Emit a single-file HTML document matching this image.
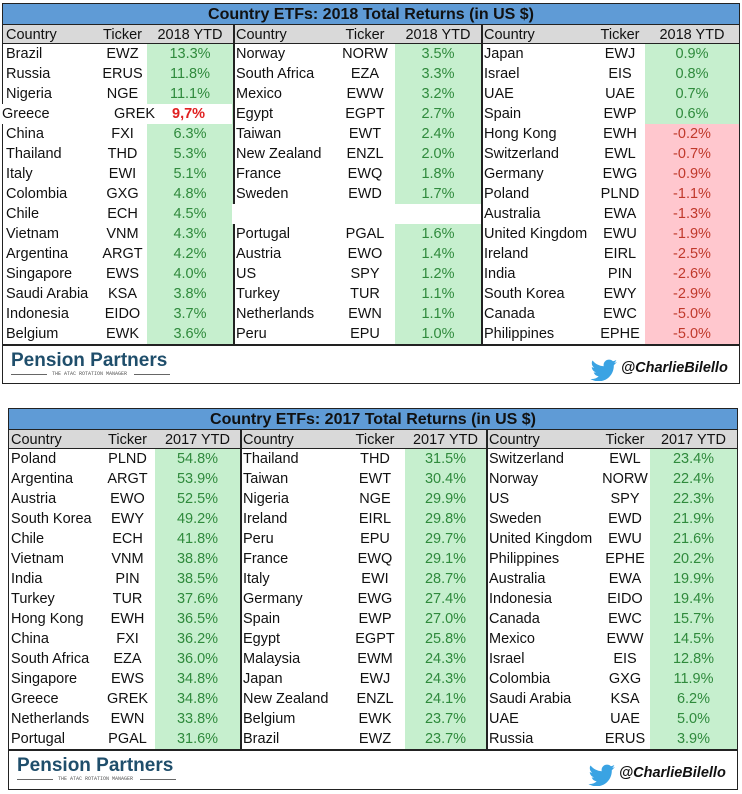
<!DOCTYPE html>
<html><head><meta charset="utf-8">
<style>
body{margin:0;width:742px;height:794px;background:#fff;position:relative;overflow:hidden;font-family:"Liberation Sans",Arial,sans-serif;}
.abs{position:absolute;box-sizing:border-box;}
.cell{position:absolute;font-size:14.5px;line-height:20px;height:20px;white-space:nowrap;color:#111;}
.title{font-weight:bold;font-size:16px;text-align:center;color:#111;}
.logo{font-family:"Liberation Sans",sans-serif;font-weight:bold;color:#1f4e6b;font-size:19px;white-space:nowrap;}
.tag{font-family:"Liberation Mono",monospace;font-size:5px;color:#555;white-space:nowrap;}
.tw{font-family:"Liberation Sans",sans-serif;font-style:italic;font-weight:bold;font-size:14.5px;color:#111;white-space:nowrap;}
</style></head>
<body>
<script>
// 2018 data
const c18_1=["Brazil","Russia","Nigeria","Greece","China","Thailand","Italy","Colombia","Chile","Vietnam","Argentina","Singapore","Saudi Arabia","Indonesia","Belgium"];
const t18_1=["EWZ","ERUS","NGE","GREK","FXI","THD","EWI","GXG","ECH","VNM","ARGT","EWS","KSA","EIDO","EWK"];
const v18_1=[13.3,11.8,11.1,9.7,6.3,5.3,5.1,4.8,4.5,4.3,4.2,4.0,3.8,3.7,3.6];
const c18_2=["Norway","South Africa","Mexico","Egypt","Taiwan","New Zealand","France","Sweden","","Portugal","Austria","US","Turkey","Netherlands","Peru"];
const t18_2=["NORW","EZA","EWW","EGPT","EWT","ENZL","EWQ","EWD","","PGAL","EWO","SPY","TUR","EWN","EPU"];
const v18_2=[3.5,3.3,3.2,2.7,2.4,2.0,1.8,1.7,null,1.6,1.4,1.2,1.1,1.1,1.0];
const c18_3=["Japan","Israel","UAE","Spain","Hong Kong","Switzerland","Germany","Poland","Australia","United Kingdom","Ireland","India","South Korea","Canada","Philippines"];
const t18_3=["EWJ","EIS","UAE","EWP","EWH","EWL","EWG","PLND","EWA","EWU","EIRL","PIN","EWY","EWC","EPHE"];
const v18_3=[0.9,0.8,0.7,0.6,-0.2,-0.7,-0.9,-1.1,-1.3,-1.9,-2.5,-2.6,-2.9,-5.0,-5.0];
// 2017 data
const c17_1=["Poland","Argentina","Austria","South Korea","Chile","Vietnam","India","Turkey","Hong Kong","China","South Africa","Singapore","Greece","Netherlands","Portugal"];
const t17_1=["PLND","ARGT","EWO","EWY","ECH","VNM","PIN","TUR","EWH","FXI","EZA","EWS","GREK","EWN","PGAL"];
const v17_1=[54.8,53.9,52.5,49.2,41.8,38.8,38.5,37.6,36.5,36.2,36.0,34.8,34.8,33.8,31.6];
const c17_2=["Thailand","Taiwan","Nigeria","Ireland","Peru","France","Italy","Germany","Spain","Egypt","Malaysia","Japan","New Zealand","Belgium","Brazil"];
const t17_2=["THD","EWT","NGE","EIRL","EPU","EWQ","EWI","EWG","EWP","EGPT","EWM","EWJ","ENZL","EWK","EWZ"];
const v17_2=[31.5,30.4,29.9,29.8,29.7,29.1,28.7,27.4,27.0,25.8,24.3,24.3,24.1,23.7,23.7];
const c17_3=["Switzerland","Norway","US","Sweden","United Kingdom","Philippines","Australia","Indonesia","Canada","Mexico","Israel","Colombia","Saudi Arabia","UAE","Russia"];
const t17_3=["EWL","NORW","SPY","EWD","EWU","EPHE","EWA","EIDO","EWC","EWW","EIS","GXG","KSA","UAE","ERUS"];
const v17_3=[23.4,22.4,22.3,21.9,21.6,20.2,19.9,19.4,15.7,14.5,12.8,11.9,6.2,5.0,3.9];

function el(tag,cls,style,text,name){
  const e=document.createElement(tag);
  if(cls)e.className=cls;
  e.setAttribute('style',style);
  if(text!==undefined)e.textContent=text;
  
  
  document.body.appendChild(e);
  return e;
}
function table(cfg){
  const {L,T,R,B,cols,year,groups,id}=cfg;
  const hT=T+22,bT=hT+19,rowH=20,bodyB=bT+15*rowH;
  el('div','abs',`left:${L}px;top:${T}px;width:${R-L}px;height:${B-T}px;border:1.5px solid #222;`,undefined,id+'-frame');
  el('div','abs title',`left:${L}px;top:${T}px;width:${R-L}px;height:22px;line-height:22px;background:#5f9bd6;border:1.5px solid #222;`,`Country ETFs: ${year} Total Returns (in US $)`,id+'-title');
  el('div','abs',`left:${L}px;top:${hT}px;width:${R-L}px;height:19px;background:#d9d9d9;border-left:1.5px solid #222;border-right:1.5px solid #222;border-bottom:1px solid #222;`,undefined,id+'-header-bar');
  groups.forEach((g,gi)=>{
    const x0=cols[gi*3],x1=cols[gi*3+1],x2=cols[gi*3+2],x3=cols[gi*3+3];
    el('div','cell',`left:${x0+3}px;top:${hT}px;`,'Country',id+'-header-country');
    el('div','cell',`left:${x1}px;top:${hT}px;width:${x2-x1}px;text-align:center;`,'Ticker',id+'-header-ticker');
    el('div','cell',`left:${x2}px;top:${hT}px;width:${x3-x2}px;text-align:center;`,`${year} YTD`,id+'-header-ytd');
    if(gi>0) el('div','abs',`left:${x0}px;top:${hT}px;width:1.5px;height:${bodyB-hT}px;background:#222;`,undefined,id+'-group-divider');
    g.c.forEach((c,i)=>{
      const y=bT+i*rowH, v=g.v[i];
      if(v===null) return;
      const neg=v<0;
      el('div','abs',`left:${x2}px;top:${y}px;width:${x3-x2}px;height:${rowH}px;background:${neg?'#ffc7ce':'#c6efce'};`,undefined,id+'-value-cell-bg');
      el('div','cell',`left:${x0+3}px;top:${y}px;`,c,id+'-country-'+c.toLowerCase().replace(/ /g,'-'));
      el('div','cell',`left:${x1}px;top:${y}px;width:${x2-x1}px;text-align:center;`,g.t[i],id+'-ticker-'+g.t[i].toLowerCase());
      el('div','cell',`left:${x2}px;top:${y}px;width:${x3-x2}px;text-align:center;color:${neg?'#c0392b':'#2f8a3c'};`,v.toFixed(1)+'%',id+'-return-'+g.t[i].toLowerCase());
    });
  });
  el('div','abs',`left:${L}px;top:${bodyB}px;width:${R-L}px;height:1.5px;background:#222;`,undefined,id+'-body-bottom-line');
  const ly=bodyB+6;
  el('div','abs logo',`left:${L+9}px;top:${ly}px;`,'Pension Partners',id+'-pension-partners-logo');
  el('div','abs',`left:${L+9}px;top:${ly+24}px;width:36px;height:1px;background:#666;`,undefined,id+'-logo-rule-left');
  el('div','abs',`left:${L+132}px;top:${ly+24}px;width:36px;height:1px;background:#666;`,undefined,id+'-logo-rule-right');
  el('div','abs tag',`left:${L+50}px;top:${ly+21}px;`,'THE ATAC ROTATION MANAGER',id+'-logo-tagline');
  el('div','abs',`left:${R-150}px;top:${ly+9}px;width:28px;height:22px;`,undefined,id+'-twitter-bird').innerHTML='<svg width="28" height="22" viewBox="0 0 28 22"><path d="M27 3c-1 .5-2 .8-3 .9 1.1-.7 1.9-1.7 2.3-2.9-1 .6-2.1 1-3.3 1.3C22 1.2 20.6.6 19 .6c-3 0-5.4 2.4-5.4 5.4 0 .4 0 .8.1 1.2C9.2 7 5.2 4.8 2.5 1.5c-.5.8-.7 1.7-.7 2.7 0 1.9 1 3.5 2.4 4.5-.9 0-1.7-.3-2.4-.7 0 2.6 1.9 4.8 4.3 5.3-.8.2-1.6.3-2.4.1.7 2.200 2.700 3.700 5 3.800C6.900 19.100 4.400 20 1.600 20c-.5 0-.9 0-1.300-.1 2.400 1.500 5.200 2.400 8.200 2.400 9.900 0 15.300-8.200 15.300-15.300v-.7C24.900 5.100 26 4.100 27 3z" fill="#3aa3e3"/></svg>';
  el('div','abs tw',`left:${R-119}px;top:${ly+10}px;`,'@CharlieBilello',id+'-twitter-handle');
}
table({id:'table-2018',L:2,T:3,R:740,B:384,year:2018,cols:[3,98,147,233,335,395,481,595,645,739],
  groups:[{c:c18_1,t:t18_1,v:v18_1},{c:c18_2,t:t18_2,v:v18_2},{c:c18_3,t:t18_3,v:v18_3}]});
table({id:'table-2017',L:8,T:408,R:738,B:790,year:2017,cols:[8,100,155,240,345,405,486,600,650,737],
  groups:[{c:c17_1,t:t17_1,v:v17_1},{c:c17_2,t:t17_2,v:v17_2},{c:c17_3,t:t17_3,v:v17_3}]});

const gy=44+3*20;
el('div','abs',`left:0px;top:${gy}px;width:232px;height:20px;background:#fff;`,undefined,'greece-row-overlay');
el('div','abs',`left:168px;top:${gy+1}px;width:60px;height:18px;background:#fff;border-radius:0 9px 9px 0;`,undefined,'greece-value-bg');
el('div','cell',`left:2px;top:${gy}px;`,'Greece','greece-country');
el('div','cell',`left:114px;top:${gy}px;`,'GREK','greece-ticker');
el('div','cell',`left:172px;top:${gy}px;font-weight:bold;color:#e02020;`,'9,7%','greece-return');
el('div','abs',`left:232px;top:${44+8*20}px;width:242px;height:20px;background:#fff;`,undefined,'blank-row-overlay');
</script>
</body></html>
